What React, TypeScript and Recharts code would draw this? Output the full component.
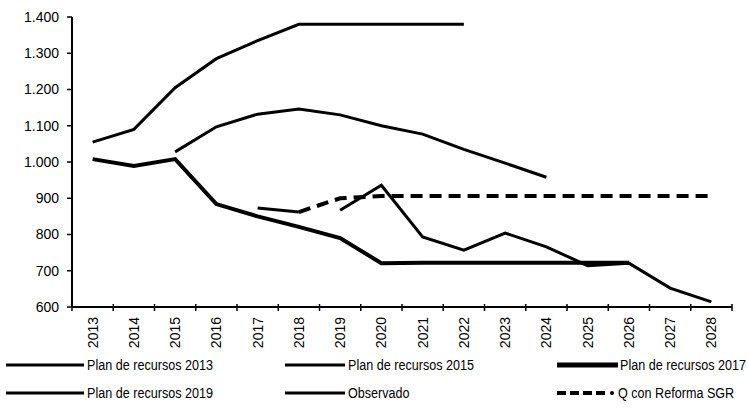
import React from "react"
import { LineChart, Line, XAxis, YAxis } from "recharts"

const years = [2013, 2014, 2015, 2016, 2017, 2018, 2019, 2020, 2021, 2022, 2023, 2024, 2025, 2026, 2027, 2028]

const plan2013 = [1055, 1090, 1205, 1285, 1335, 1380, 1380, 1380, 1380, 1380, null, null, null, null, null, null]
const plan2015 = [null, null, 1028, 1097, 1132, 1146, 1130, 1100, 1077, 1035, 997, 958, null, null, null, null]
const plan2017 = [1008, 989, 1008, 884, 850, 821, 790, 721, 722, 722, 722, 722, 722, 722, null, null]
const plan2019 = [null, null, null, null, null, null, 867, 936, 793, 757, 804, 766, 714, 721, 652, 614]
const observado = [null, null, null, null, 873, 862, null, null, null, null, null, null, null, null, null, null]
const reforma = [null, null, null, null, null, 862, 900, 906, 906, 906, 906, 906, 906, 906, 906, 906]

const yTicks = [600, 700, 800, 900, 1000, 1100, 1200, 1300, 1400]

const legendNames = [
  "Plan de recursos 2013",
  "Plan de recursos 2015",
  "Plan de recursos 2017",
  "Plan de recursos 2019",
  "Observado",
  "Q con Reforma SGR",
]

const data = years.map((year, i) => ({
  year,
  plan2013: plan2013[i],
  plan2015: plan2015[i],
  plan2017: plan2017[i],
  plan2019: plan2019[i],
  observado: observado[i],
  reforma: reforma[i],
}))

// ticks at every year (labels) and every half year (tick marks between categories)
const xTicks = [years[0] - 0.5, ...years.flatMap((y) => [y, y + 0.5])]

const FONT = "'Liberation Sans', Arial, sans-serif"

const fmtY = (v: number) => (v >= 1000 ? `${Math.floor(v / 1000)}.${String(v % 1000).padStart(3, "0")}` : String(v))

const YearTick = (props: any) => {
  const { x, y, payload } = props
  const v = payload.value
  if (v % 1 !== 0) {
    return <line x1={x} x2={x} y1={y - 3} y2={y + 4} stroke="#000" strokeWidth={1.5} />
  }
  const tx = x + 5
  const ty = y + 10
  return (
    <text x={tx} y={ty} transform={`rotate(-90, ${tx}, ${ty})`} textAnchor="end" fontSize={14} fontFamily={FONT} fill="#000">
      {v}
    </text>
  )
}

const legendRows = [
  { y: 365, items: [0, 1, 2] },
  { y: 393, items: [3, 4, 5] },
]
const legendCols = [
  { x1: 6, x2: 84, tx: 87 },
  { x1: 285, x2: 345, tx: 348 },
  { x1: 557, x2: 618, tx: 620 },
]
const legendWidths = [3, 3, 5, 3, 3, 4]

function ChartLegend() {
  return (
    <svg width={748} height={411} style={{ position: "absolute", left: 0, top: 0, pointerEvents: "none" }}>
      {legendRows.map((row) =>
        row.items.map((idx, c) => {
          const col = legendCols[c]
          const dashed = idx === 5
          return (
            <g key={idx}>
              <line
                x1={col.x1}
                x2={dashed ? col.x2 - 12 : col.x2}
                y1={row.y}
                y2={row.y}
                stroke="#000"
                strokeWidth={legendWidths[idx]}
                strokeDasharray={dashed ? "9 4" : undefined}
              />
              {dashed && <circle cx={col.x2 - 6} cy={row.y} r={2} fill="#000" />}
              <text
                transform={`translate(${dashed ? col.tx - 2 : col.tx}, ${row.y + 5}) scale(0.84, 1)`}
                fontSize={15}
                fontFamily={FONT}
                fill="#000"
              >
                {legendNames[idx]}
              </text>
            </g>
          )
        })
      )}
    </svg>
  )
}

export default function App() {
  return (
    <div style={{ position: "absolute", left: 0, top: 0, width: 748, height: 411, background: "#fff" }}>
      <LineChart width={748} height={411} data={data} margin={{ top: 17, right: 16, left: 0, bottom: 64 }}>
        <XAxis
          dataKey="year"
          type="number"
          domain={[2012.5, 2028.5]}
          ticks={xTicks}
          interval={0}
          tick={<YearTick />}
          tickLine={false}
          tickSize={0}
          tickMargin={0}
          height={40}
          axisLine={{ stroke: "#000", strokeWidth: 2 }}
        />
        <YAxis
          domain={[600, 1400]}
          ticks={yTicks}
          interval={0}
          width={72}
          tickFormatter={fmtY}
          tickSize={5}
          tickMargin={8}
          tick={{ fontSize: 14, fontFamily: FONT, fill: "#000" }}
          tickLine={{ stroke: "#000", strokeWidth: 1.5 }}
          axisLine={{ stroke: "#000", strokeWidth: 2 }}
        />
        <Line dataKey="plan2013" stroke="#000" strokeWidth={3} dot={false} isAnimationActive={false} />
        <Line dataKey="plan2015" stroke="#000" strokeWidth={3} dot={false} isAnimationActive={false} />
        <Line dataKey="plan2017" stroke="#000" strokeWidth={4} dot={false} isAnimationActive={false} />
        <Line dataKey="plan2019" stroke="#000" strokeWidth={3} dot={false} isAnimationActive={false} />
        <Line dataKey="observado" stroke="#000" strokeWidth={3} dot={false} isAnimationActive={false} />
        <Line dataKey="reforma" stroke="#000" strokeWidth={4} strokeDasharray="12 7" dot={false} isAnimationActive={false} />
      </LineChart>
      <ChartLegend />
    </div>
  )
}
